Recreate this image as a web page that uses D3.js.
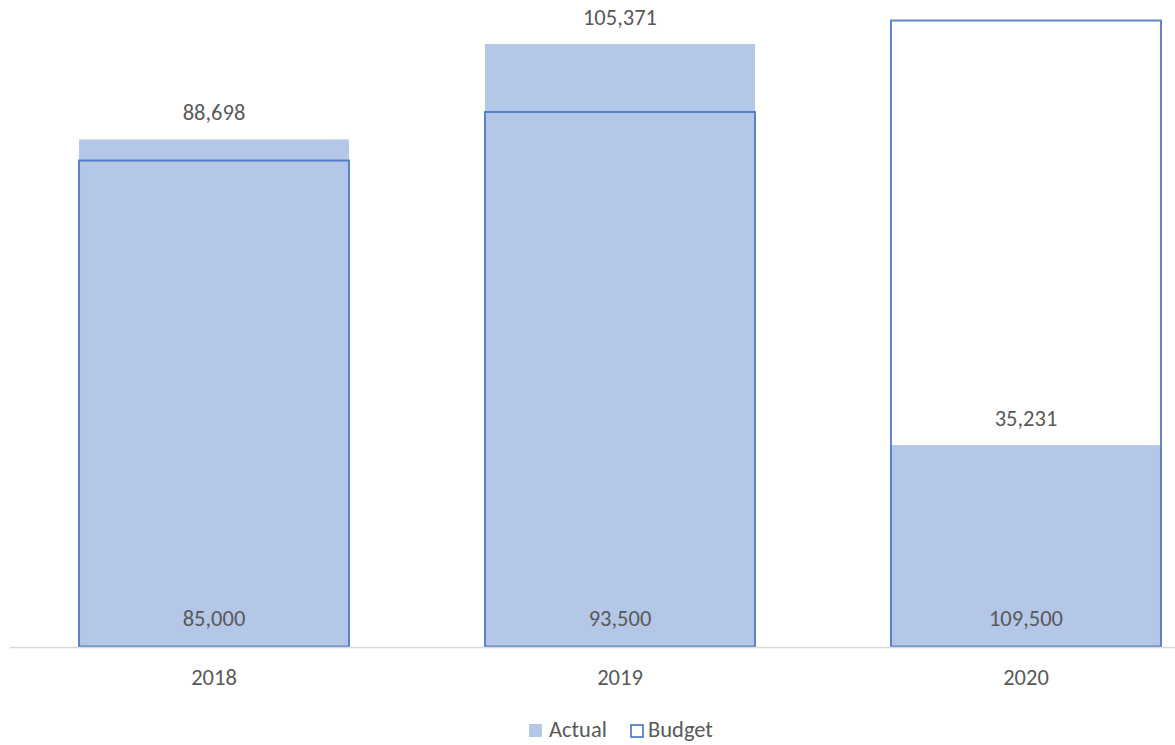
<!DOCTYPE html>
<html>
<head>
<meta charset="utf-8">
<script src="https://cdn.jsdelivr.net/npm/d3@7"></script>
<style>
  html, body { margin: 0; padding: 0; background: #fff; }
  svg { display: block; }
  text { font-family: Calibri, Carlito, "Open Sans", sans-serif; fill: #595959; }
</style>
</head>
<body>
<svg id="chart" width="1175" height="745"></svg>
<script>
const categories = ["2018", "2019", "2020"];
const actualValues = [88698, 105371, 35231];
const budgetValues = [85000, 93500, 109500];
const seriesNames = ["Actual", "Budget"];

const W = 1175, H = 745;
const svg = d3.select("#chart");
const baseY = 646.5;
const FS = "22.5px";

const x = d3.scaleBand()
  .domain(categories)
  .range([11, 1229])
  .paddingInner(0.335)
  .paddingOuter(0.1675);

const y = d3.scaleLinear()
  .domain([0, 109500])
  .range([baseY, 20.5]);

const fmt = d3.format(",");
const data = categories.map((c, i) => ({ cat: c, actual: actualValues[i], budget: budgetValues[i] }));

// Actual bars (filled)
svg.append("g").selectAll("rect")
  .data(data).join("rect")
  .attr("x", d => x(d.cat))
  .attr("y", d => y(d.actual))
  .attr("width", x.bandwidth())
  .attr("height", d => baseY - y(d.actual))
  .attr("fill", "#B4C7E7");

// Budget bars (outline)
svg.append("g").selectAll("rect")
  .data(data).join("rect")
  .attr("x", d => x(d.cat))
  .attr("y", d => y(d.budget))
  .attr("width", x.bandwidth())
  .attr("height", d => baseY - y(d.budget))
  .attr("fill", "none")
  .attr("stroke", "#4472C4")
  .attr("stroke-width", 2)
  .attr("stroke-opacity", 0.85);

// Axis line
svg.append("line")
  .attr("x1", 10).attr("x2", W)
  .attr("y1", baseY + 1).attr("y2", baseY + 1)
  .attr("stroke", "#D9D9D9").attr("stroke-width", 1.5);

// Category labels
const xAxis = d3.axisBottom(x).tickSize(0).tickPadding(0);
const gx = svg.append("g").attr("transform", `translate(0,${baseY})`).call(xAxis);
gx.select(".domain").remove();
gx.selectAll("text")
  .attr("y", 38)
  .attr("dy", 0)
  .style("font-size", FS)
  .style("font-family", "Calibri, Carlito, 'Open Sans', sans-serif")
  .attr("fill", "#595959");

// Actual labels (above actual bar)
svg.append("g").selectAll("text")
  .data(data).join("text")
  .attr("x", d => x(d.cat) + x.bandwidth() / 2)
  .attr("y", d => y(d.actual) - 19.5)
  .attr("text-anchor", "middle")
  .style("font-size", FS)
  .text(d => fmt(d.actual));

// Budget labels (inside base)
svg.append("g").selectAll("text")
  .data(data).join("text")
  .attr("x", d => x(d.cat) + x.bandwidth() / 2)
  .attr("y", baseY - 21)
  .attr("text-anchor", "middle")
  .style("font-size", FS)
  .text(d => fmt(d.budget));

// Legend
const leg = svg.append("g");
leg.append("rect").attr("x", 529).attr("y", 724).attr("width", 13).attr("height", 13).attr("fill", "#B4C7E7");
leg.append("text").attr("x", 549).attr("y", 737).style("font-size", FS).text(seriesNames[0]);
leg.append("rect").attr("x", 631).attr("y", 725).attr("width", 12).attr("height", 12)
  .attr("fill", "none").attr("stroke", "#4472C4").attr("stroke-width", 1.6);
leg.append("text").attr("x", 648).attr("y", 737).style("font-size", FS).text(seriesNames[1]);
</script>
</body>
</html>
